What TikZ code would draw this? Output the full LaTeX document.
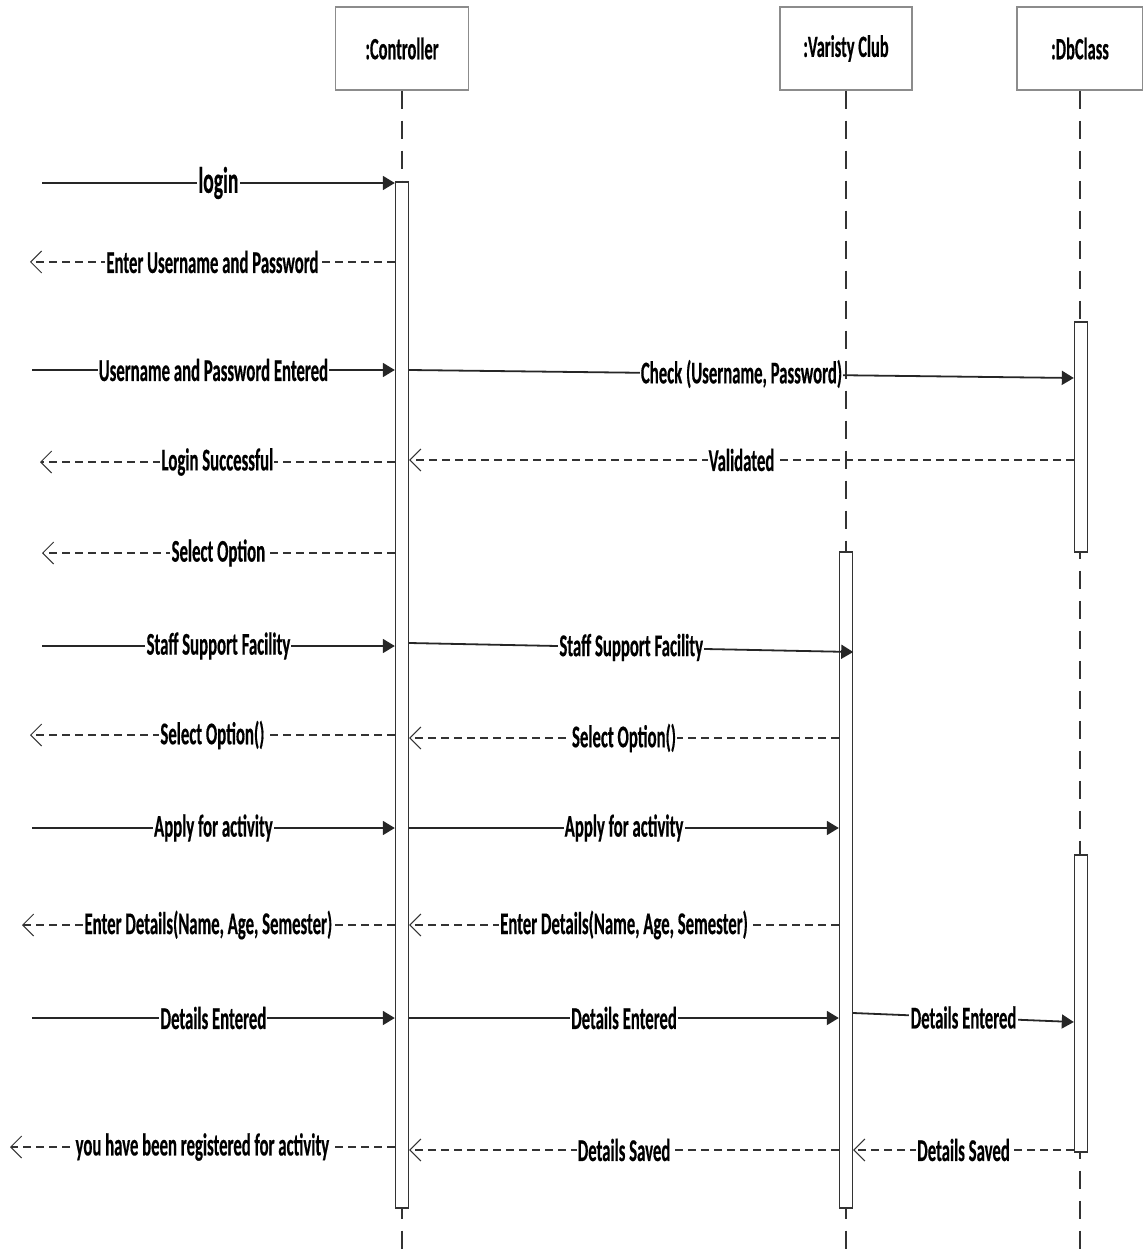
\documentclass[tikz,border=0pt]{standalone}
\usepackage{fontspec}
\usetikzlibrary{arrows.meta}
\newfontfamily\diagfont{Carlito}[FakeStretch=0.53, FakeBold=0.4]
\begin{document}
\begin{tikzpicture}[x=0.5pt,y=-0.5pt,
  head/.style={draw=black!45, line width=0.7pt, fill=white,
    minimum height=41.5pt, font=\diagfont\bfseries\fontsize{15.5}{17}\selectfont},
  bar/.style={draw=black!80, line width=0.7pt, fill=white, minimum width=6.5pt, inner sep=0pt},
  lifeline/.style={draw=black!80, line width=0.6pt, dash pattern=on 9pt off 6pt},
  lbl/.style={fill=white, inner sep=0.6pt, text=black,
    font=\diagfont\bfseries\fontsize{15.8}{17}\selectfont},
  biglbl/.style={lbl, font=\diagfont\bfseries\fontsize{18.5}{20}\selectfont},
  call/.style={draw=black!85, line width=0.9pt, -{Triangle[length=6pt,width=7pt]}},
  ret/.style={draw=black!80, line width=0.9pt, dash pattern=on 4pt off 2.5pt,
    -{Straight Barb[length=5.5pt,width=11pt,line width=0.5pt]}}]
\useasboundingbox (0,0) rectangle (1143,1251);

% object heads
\node[head, minimum width=66.5pt] (ctrl) at (402,48.5) {:Controller};
\node[head, minimum width=66pt] (club) at (846,48.5) {:Varisty Club};
\node[head, minimum width=63pt] (db) at (1080,48.5) {:DbClass};

% lifelines
\coordinate (bottom) at (0,1251);
\draw[lifeline] (ctrl.south) -- (ctrl.south |- bottom);
\draw[lifeline] (club.south) -- (club.south |- bottom);
\draw[lifeline] (db.south) -- (db.south |- bottom);

% activation bars
\node[bar, minimum height=513pt] (cbar) at (402,695) {};
\node[bar, minimum height=328pt] (vbar) at (846,880) {};
\node[bar, minimum height=115pt] (dbar1) at (1081,437) {};
\node[bar, minimum height=148.5pt] (dbar2) at (1081,1003.5) {};

% message rows
\foreach \n/\y in {r1/183, r2/262, r3/370, r3b/378, r4/460, r5/462, r6/553,
  r7/646, r7a/643, r7b/652, r8/735, r8b/738, r9/828, r10/925, r11/1018,
  r11a/1013, r11b/1022, r12/1150, r12b/1147}
  \coordinate (\n) at (0,\y);

% free ends on the left
\coordinate (u1) at (42,183);
\coordinate (u2) at (30,262);
\coordinate (u3) at (32,370);
\coordinate (u5) at (40,462);
\coordinate (u6) at (42,553);
\coordinate (u7) at (42,646);
\coordinate (u8) at (30,735);
\coordinate (u9) at (32,828);
\coordinate (u10) at (22,925);
\coordinate (u11) at (32,1018);
\coordinate (u12) at (10,1147);

% messages
\draw[call] (u1) -- node[biglbl]{login} (cbar.west |- r1);
\draw[ret] (cbar.west |- r2) -- node[lbl]{Enter Username and Password} (u2);
\draw[call] (u3) -- node[lbl]{Username and Password Entered} (cbar.west |- r3);
\draw[call] (cbar.east |- r3) -- node[lbl]{Check (Username, Password)} (dbar1.west |- r3b);
\draw[ret] (dbar1.west |- r4) -- node[lbl]{Validated} (cbar.east |- r4);
\draw[ret] (cbar.west |- r5) -- node[lbl]{Login Successful} (u5);
\draw[ret] (cbar.west |- r6) -- node[lbl]{Select Option} (u6);
\draw[call] (u7) -- node[lbl]{Staff Support Facility} (cbar.west |- r7);
\draw[call] (cbar.east |- r7a) -- node[lbl]{Staff Support Facility} (vbar.east |- r7b);
\draw[ret] (cbar.west |- r8) -- node[lbl]{Select Option()} (u8);
\draw[ret] (vbar.west |- r8b) -- node[lbl]{Select Option()} (cbar.east |- r8b);
\draw[call] (u9) -- node[lbl]{Apply for activity} (cbar.west |- r9);
\draw[call] (cbar.east |- r9) -- node[lbl]{Apply for activity} (vbar.west |- r9);
\draw[ret] (cbar.west |- r10) -- node[lbl]{Enter Details(Name, Age, Semester)} (u10);
\draw[ret] (vbar.west |- r10) -- node[lbl]{Enter Details(Name, Age, Semester)} (cbar.east |- r10);
\draw[call] (u11) -- node[lbl]{Details Entered} (cbar.west |- r11);
\draw[call] (cbar.east |- r11) -- node[lbl]{Details Entered} (vbar.west |- r11);
\draw[call] (vbar.east |- r11a) -- node[lbl]{Details Entered} (dbar2.west |- r11b);
\draw[ret] (dbar2.west |- r12) -- node[lbl]{Details Saved} (vbar.east |- r12);
\draw[ret] (vbar.west |- r12) -- node[lbl]{Details Saved} (cbar.east |- r12);
\draw[ret] (cbar.west |- r12b) -- node[lbl]{you have been registered for activity} (u12);
\end{tikzpicture}
\end{document}
